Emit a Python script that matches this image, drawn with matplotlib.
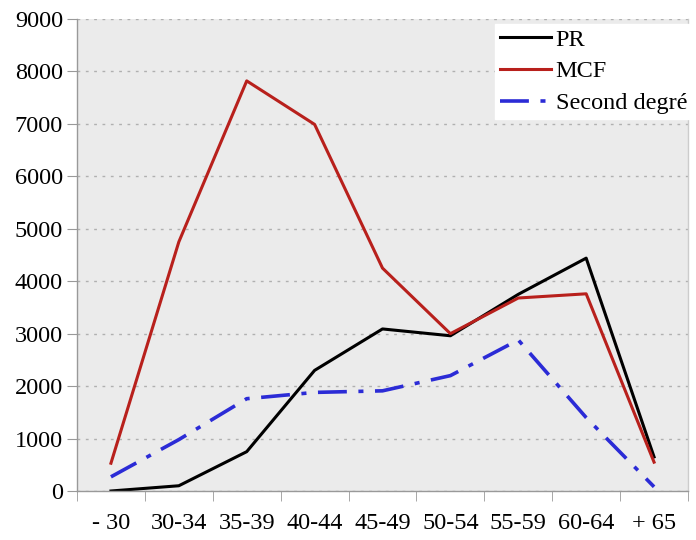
import numpy as np
import matplotlib
matplotlib.use('Agg')
import matplotlib.pyplot as plt

plt.rcParams['font.family'] = ['Liberation Serif', 'DejaVu Serif']

categories = ['- 30', '30-34', '35-39', '40-44', '45-49', '50-54', '55-59', '60-64', '+ 65']
pr = [0, 100, 750, 2300, 3090, 2960, 3750, 4440, 650]
mcf = [530, 4750, 7820, 6990, 4250, 3000, 3680, 3760, 550]
second = [270, 980, 1760, 1880, 1910, 2200, 2880, 1400, 80]

fig = plt.figure(figsize=(6.96, 5.4), dpi=100)
ax = fig.add_axes([77 / 696, 49 / 540, 611 / 696, 472 / 540])
ax.set_facecolor('#ebebeb')

x = np.arange(len(categories))
ax.plot(x, pr, color='black', lw=2.2, label='PR')
ax.plot(x, mcf, color='#b8201c', lw=2.2, label='MCF')
ax.plot(x, second, color='#2b2bd6', lw=2.6, dashes=(8, 3.2, 1.4, 3.2), label='Second degré')

ax.set_xlim(-0.5, len(categories) - 0.5)
ax.set_ylim(0, 9000)
ax.set_yticks(range(0, 9001, 1000))
ax.yaxis.grid(True, color='#b0b0b0', linestyle=(0, (2, 4)), lw=1)
ax.set_axisbelow(True)

ax.set_xticks(x)
ax.set_xticklabels(categories)
ax.set_xticks(np.arange(-0.5, len(categories)), minor=True)
ax.tick_params(axis='x', which='major', length=0, pad=16, labelsize=17.5)
ax.tick_params(axis='x', which='minor', length=7, color='#999999', direction='out')
ax.tick_params(axis='y', length=7, color='#999999', labelsize=17.5, pad=3)

for s in ['left', 'bottom', 'right']:
    ax.spines[s].set_color('#999999')
    ax.spines[s].set_linewidth(1)
ax.spines['right'].set_color('#cccccc')
ax.spines['top'].set_visible(False)

leg = ax.legend(loc='upper left', bbox_to_anchor=(0.684, 0.99), fontsize=17.5,
                frameon=True, fancybox=False, edgecolor='white', framealpha=1,
                handlelength=2.1, handletextpad=0.2, borderpad=0.2, labelspacing=0.4,
                borderaxespad=0)

fig.savefig('out.png', dpi=100)
